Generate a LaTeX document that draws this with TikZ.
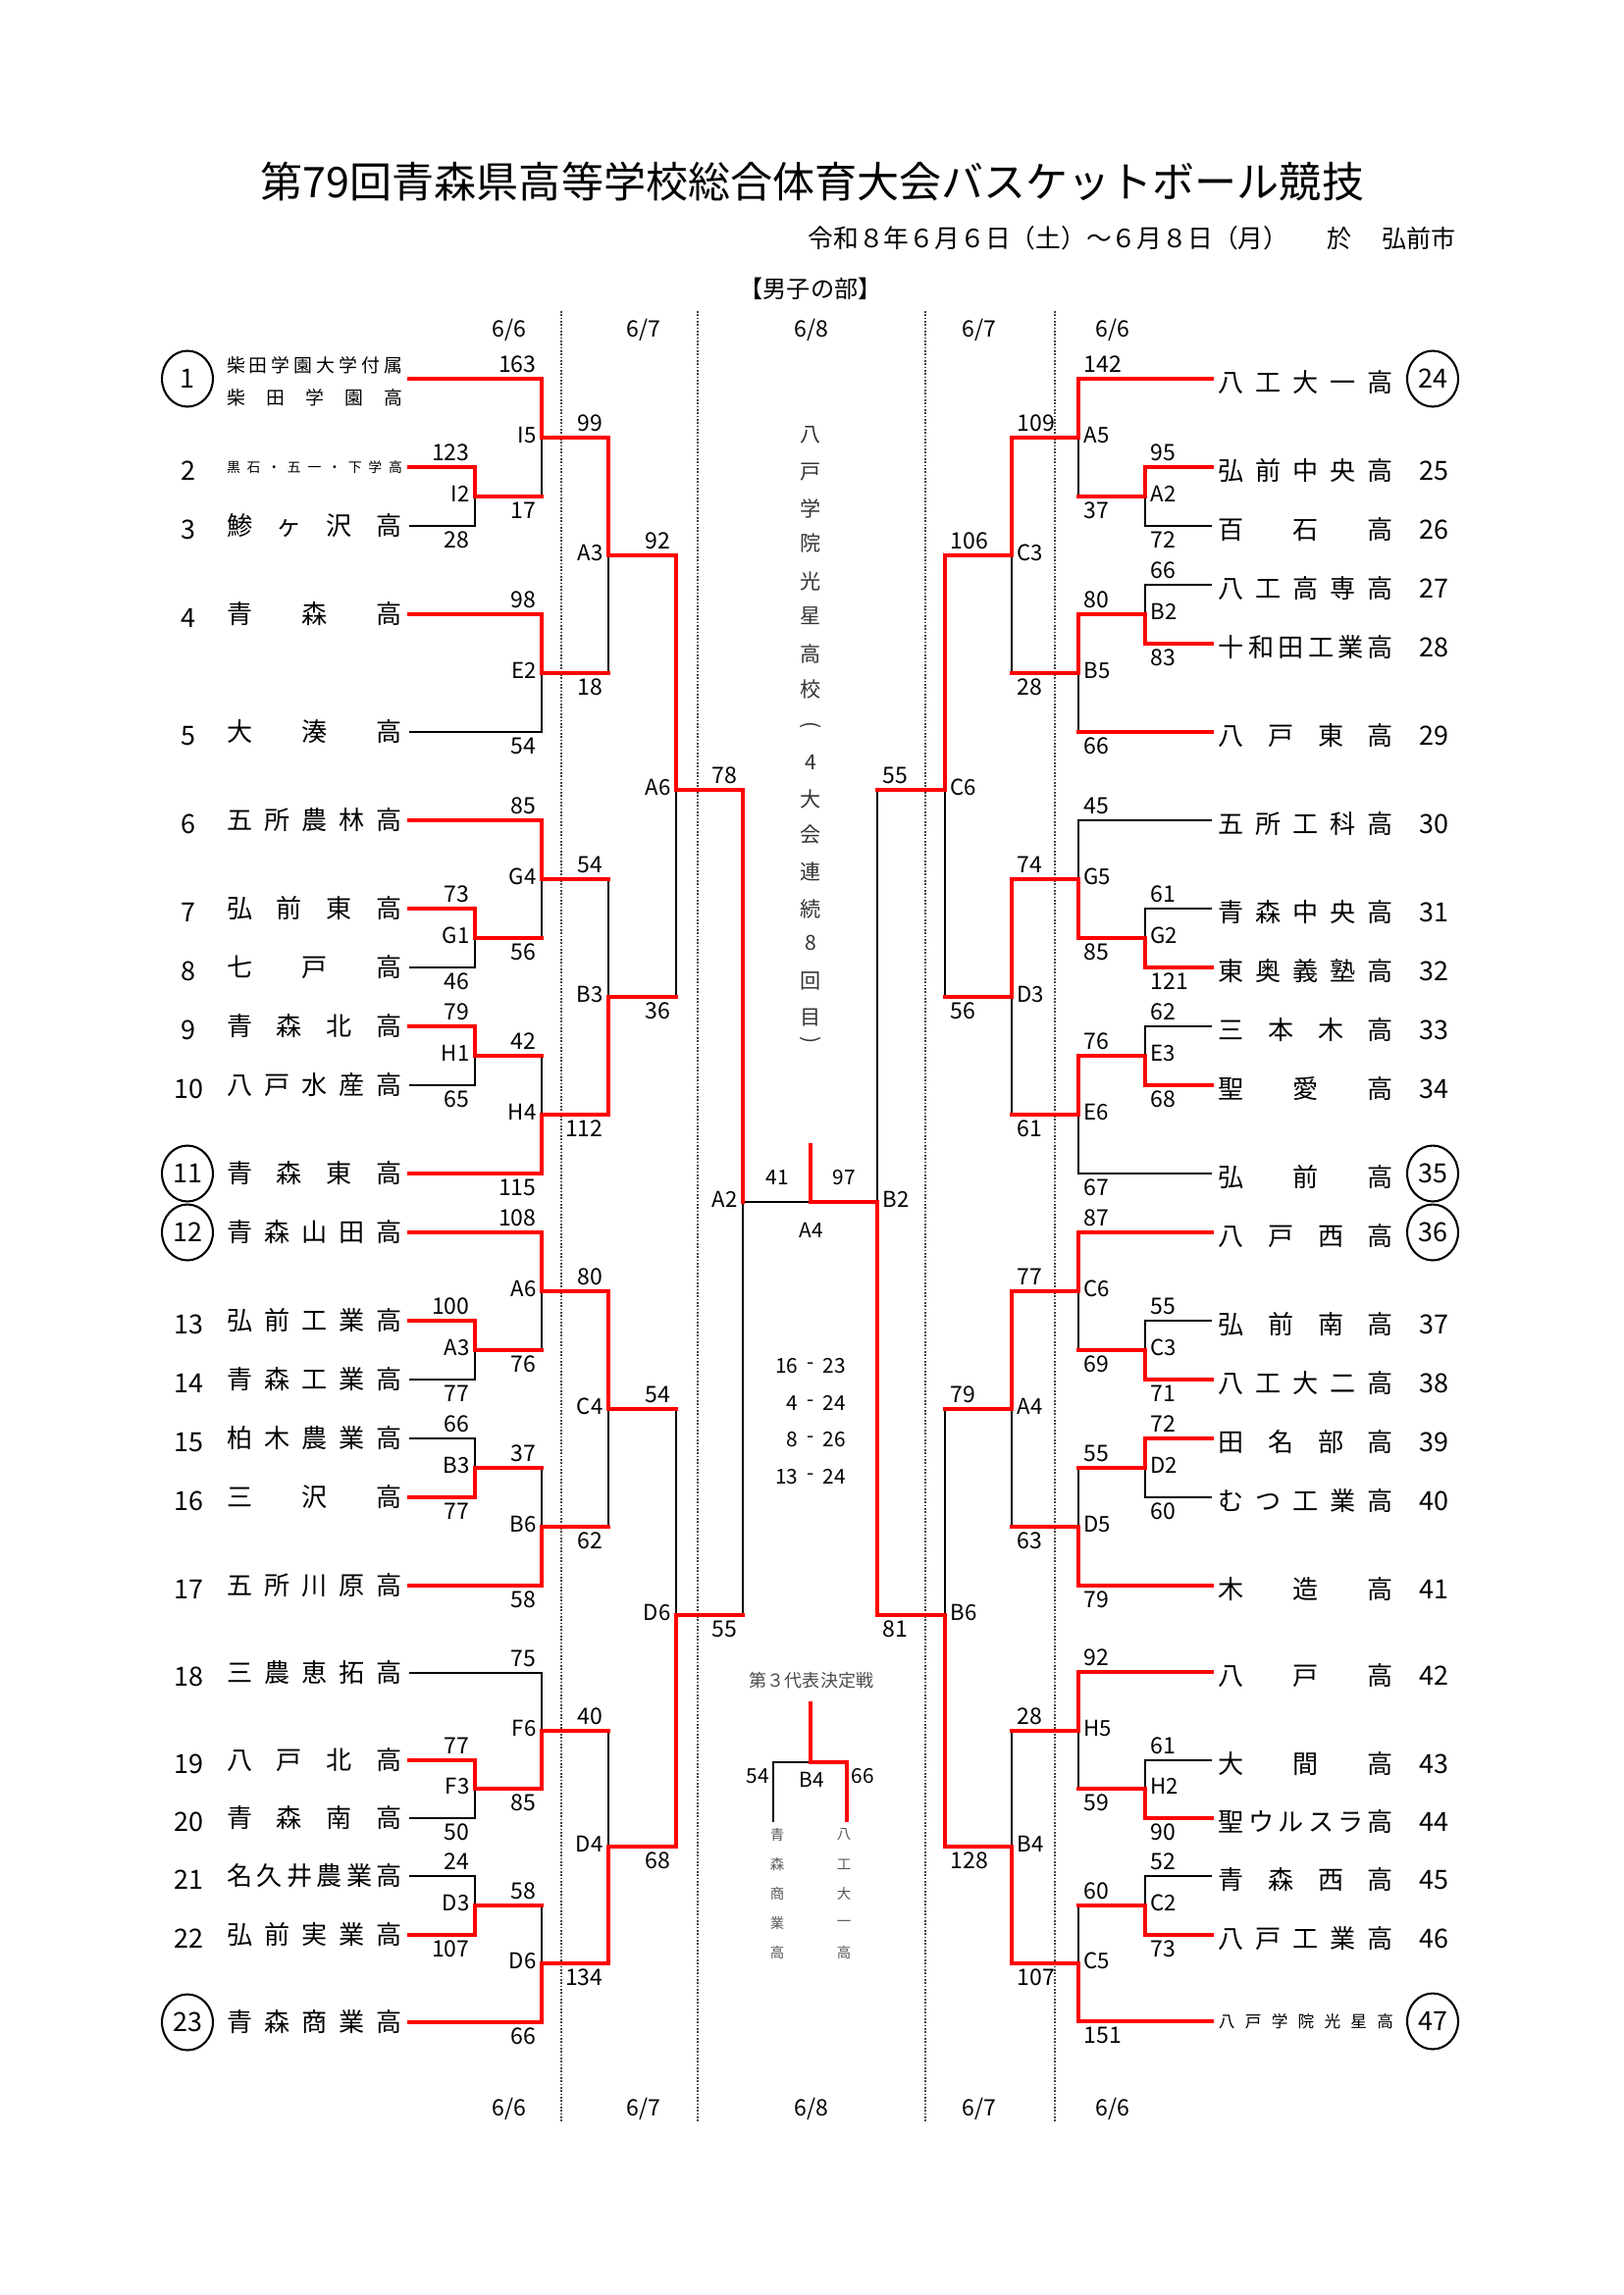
\documentclass[tikz,border=0pt]{standalone}
\usepackage{fontspec}
\setmainfont{Noto Sans CJK JP}
\usetikzlibrary{calc,shapes.geometric}
\pgfdeclarelayer{fg}
\pgfsetlayers{main,fg}
\newcommand\fs[1]{\fontsize{#1}{#1}\selectfont}
\makeatletter
\newcommand\spr[2]{\edef\sprlist{#2}\makebox[#1][s]{\def\sprnext{\@tfor\sprx:=}\expandafter\sprnext\sprlist\do{\sprx\hfill}\unskip}}
\makeatother
\newcounter{nd}
\newcommand\WW[2]{\begin{pgfonlayer}{fg}\draw[win] (#1) -| (#2);\end{pgfonlayer}}
\newcommand\BB[2]{\draw[lose] (#1) -| (#2);}
\newcommand\RB[2]{\draw[lose] (#1 -| #2) -- (#2);\begin{pgfonlayer}{fg}\draw[win] (#1) -- (#1 -| #2);\end{pgfonlayer}}
\newcommand\sLu[3]{\stepcounter{nd}\node[scL] (s\arabic{nd}) at ($(#1 -| #2)+(-5,-15)$) {#3};}
\newcommand\sLd[3]{\stepcounter{nd}\node[scL] (s\arabic{nd}) at ($(#1 -| #2)+(-5,14)$) {#3};}
\newcommand\sRu[3]{\stepcounter{nd}\node[scR] (s\arabic{nd}) at ($(#1 -| #2)+(5,-15)$) {#3};}
\newcommand\sRd[3]{\stepcounter{nd}\node[scR] (s\arabic{nd}) at ($(#1 -| #2)+(5,14)$) {#3};}
\newcommand\lL[2]{\stepcounter{nd}\node[lbL] (s\arabic{nd}) at ($(#1)+(-5,-3)$) {#2};}
\newcommand\lR[2]{\stepcounter{nd}\node[lbR] (s\arabic{nd}) at ($(#1)+(5,-3)$) {#2};}
\tikzset{
 win/.style={draw=red, line width=1.6pt, line cap=rect},
 lose/.style={draw=black, line width=0.7pt},
 sc/.style={font=\fs{8.3}, inner sep=0pt},
 scL/.style={sc, anchor=east},
 scR/.style={sc, anchor=west},
 lbL/.style={font=\fs{8}, inner sep=0pt, anchor=east},
 lbR/.style={font=\fs{8}, inner sep=0pt, anchor=west},
 tname/.style={font=\fs{9.4}, inner sep=0pt},
 tnum/.style={font=\fs{9.7}, inner sep=0pt},
 seed/.style={ellipse, draw, line width=0.75pt, minimum width=18.7pt, minimum height=20.5pt, inner sep=0pt, font=\fs{9.7}},
 datelbl/.style={font=\fs{8.3}, inner sep=0pt},
 dots/.style={line width=0.4pt, black!75, dash pattern=on 0.6pt off 0.6pt},
 ctext/.style={font=\fs{7.5}, inner sep=0pt},
 vtext/.style={font=\fs{7.6}, inner sep=0pt, text=black!80},
 smallv/.style={font=\fs{5.2}, inner sep=0pt, text=black!65},
}
\begin{document}
\begin{tikzpicture}[x=0.36pt, y=-0.36pt]
\useasboundingbox (0,0) rectangle (1654,2339);
% titles
\node[inner sep=0pt, font=\fs{15.5}] (title) at (828,185) {第79回青森県高等学校総合体育大会バスケットボール競技};
\node[inner sep=0pt, font=\fs{9.28}, anchor=west] (sub1) at (823,243) {令和８年６月６日（土）～６月８日（月）};
\node[inner sep=0pt, font=\fs{9}] (sub2) at (1365,243) {於};
\node[inner sep=0pt, font=\fs{9}] (sub3) at (1446,243) {弘前市};
\node[inner sep=0pt, font=\fs{8.7}] (div) at (826,294) {【男子の部】};
% dotted round separators
\foreach \x/\nm in {572/da,711/db,943/dc,1075/dd} {
  \coordinate (\nm t) at (\x,317); \coordinate (\nm b) at (\x,2162);
  \draw[dots] (\nm t) -- (\nm b);
}
% dates
\foreach \x/\d [count=\i] in {519/6\slash 6,656/6\slash 7,827/6\slash 8,998/6\slash 7,1134/6\slash 6} {
  \node[datelbl] (dt\i) at (\x,336) {\d};
  \node[datelbl] (db\i) at (\x,2149) {\d};
}
% team line coordinates
\foreach \n/\y in {1/386,2/476,3/536,4/626,5/746,6/836,7/926,8/986,9/1046,10/1106,11/1196,12/1256,13/1346,14/1406,15/1466,16/1526,17/1616,18/1705,19/1794,20/1853,21/1912,22/1972,23/2061}
  \coordinate (L\n) at (417,\y);
\foreach \n/\y in {24/386,25/476,26/536,27/596,28/656,29/746,30/836,31/926,32/986,33/1046,34/1106,35/1196,36/1256,37/1346,38/1406,39/1466,40/1526,41/1616,42/1704,43/1794,44/1853,45/1912,46/1972,47/2060}
  \coordinate (R\n) at (1235,\y);
% junctions left
\coordinate (lp1) at (484,506); \coordinate (lp2) at (484,956); \coordinate (lp3) at (484,1076);
\coordinate (lp4) at (484,1376); \coordinate (lp5) at (484,1496); \coordinate (lp6) at (484,1823);
\coordinate (lp7) at (484,1942);
\coordinate (l1a) at (552,446); \coordinate (l1b) at (552,686); \coordinate (l1c) at (552,896);
\coordinate (l1d) at (552,1136); \coordinate (l1e) at (552,1316); \coordinate (l1f) at (552,1556);
\coordinate (l1g) at (552,1764); \coordinate (l1h) at (552,2001);
\coordinate (l2a) at (620,566); \coordinate (l2b) at (620,1016); \coordinate (l2c) at (620,1436); \coordinate (l2d) at (620,1882);
\coordinate (l3a) at (689,805); \coordinate (l3b) at (689,1646);
\coordinate (ls) at (757,1225);
\coordinate (fin) at (826,1225); \coordinate (fintop) at (826,1167);
\coordinate (rs) at (894,1225);
\coordinate (r3a) at (963,805); \coordinate (r3b) at (963,1646);
\coordinate (r2a) at (1031,566); \coordinate (r2b) at (1031,1016); \coordinate (r2c) at (1031,1436); \coordinate (r2d) at (1031,1882);
\coordinate (r1a) at (1099,446); \coordinate (r1b) at (1099,686); \coordinate (r1c) at (1099,896);
\coordinate (r1d) at (1099,1136); \coordinate (r1e) at (1099,1316); \coordinate (r1f) at (1099,1556);
\coordinate (r1g) at (1099,1764); \coordinate (r1h) at (1099,2001);
\coordinate (rp1) at (1167,506); \coordinate (rp2) at (1167,626); \coordinate (rp3) at (1167,956);
\coordinate (rp4) at (1167,1076); \coordinate (rp5) at (1167,1376); \coordinate (rp6) at (1167,1496);
\coordinate (rp7) at (1167,1823); \coordinate (rp8) at (1167,1942);
% left bracket
\WW{L2}{lp1} \BB{L3}{lp1}
\WW{L1}{l1a} \RB{lp1}{l1a}
\WW{L4}{l1b} \BB{L5}{l1b}
\WW{L7}{lp2} \BB{L8}{lp2}
\WW{L6}{l1c} \RB{lp2}{l1c}
\WW{L9}{lp3} \BB{L10}{lp3}
\RB{lp3}{l1d} \WW{L11}{l1d}
\WW{L13}{lp4} \BB{L14}{lp4}
\WW{L12}{l1e} \RB{lp4}{l1e}
\BB{L15}{lp5} \WW{L16}{lp5}
\RB{lp5}{l1f} \WW{L17}{l1f}
\WW{L19}{lp6} \BB{L20}{lp6}
\BB{L18}{l1g} \WW{lp6}{l1g}
\BB{L21}{lp7} \WW{L22}{lp7}
\RB{lp7}{l1h} \WW{L23}{l1h}
\WW{l1a}{l2a} \RB{l1b}{l2a}
\RB{l1c}{l2b} \WW{l1d}{l2b}
\WW{l1e}{l2c} \RB{l1f}{l2c}
\RB{l1g}{l2d} \WW{l1h}{l2d}
\WW{l2a}{l3a} \RB{l2b}{l3a}
\RB{l2c}{l3b} \WW{l2d}{l3b}
\WW{l3a}{ls} \RB{l3b}{ls}
% final
\draw[lose] (ls) -- (fin);
\begin{pgfonlayer}{fg}\draw[win] (rs) -- (fin) -- (fintop);\end{pgfonlayer}
% right bracket
\WW{R25}{rp1} \BB{R26}{rp1}
\WW{R24}{r1a} \RB{rp1}{r1a}
\BB{R27}{rp2} \WW{R28}{rp2}
\WW{rp2}{r1b} \RB{R29}{r1b}
\BB{R31}{rp3} \WW{R32}{rp3}
\BB{R30}{r1c} \WW{rp3}{r1c}
\BB{R33}{rp4} \WW{R34}{rp4}
\WW{rp4}{r1d} \BB{R35}{r1d}
\BB{R37}{rp5} \WW{R38}{rp5}
\WW{R36}{r1e} \RB{rp5}{r1e}
\WW{R39}{rp6} \BB{R40}{rp6}
\RB{rp6}{r1f} \WW{R41}{r1f}
\BB{R43}{rp7} \WW{R44}{rp7}
\WW{R42}{r1g} \RB{rp7}{r1g}
\BB{R45}{rp8} \WW{R46}{rp8}
\RB{rp8}{r1h} \WW{R47}{r1h}
\WW{r1a}{r2a} \RB{r1b}{r2a}
\WW{r1c}{r2b} \RB{r1d}{r2b}
\WW{r1e}{r2c} \RB{r1f}{r2c}
\RB{r1g}{r2d} \WW{r1h}{r2d}
\WW{r2a}{r3a} \RB{r2b}{r3a}
\RB{r2c}{r3b} \WW{r2d}{r3b}
\RB{r3a}{rs} \WW{r3b}{rs}
% left scores and labels
\sLu{L2}{lp1}{123} \sLd{L3}{lp1}{28} \lL{lp1}{I2}
\sLu{L1}{l1a}{163} \sLd{lp1}{l1a}{17} \lL{l1a}{I5}
\sLu{L4}{l1b}{98} \sLd{L5}{l1b}{54} \lL{l1b}{E2}
\sLu{L7}{lp2}{73} \sLd{L8}{lp2}{46} \lL{lp2}{G1}
\sLu{L6}{l1c}{85} \sLd{lp2}{l1c}{56} \lL{l1c}{G4}
\sLu{L9}{lp3}{79} \sLd{L10}{lp3}{65} \lL{lp3}{H1}
\sLu{lp3}{l1d}{42} \sLd{L11}{l1d}{115} \lL{l1d}{H4}
\sLu{L13}{lp4}{100} \sLd{L14}{lp4}{77} \lL{lp4}{A3}
\sLu{L12}{l1e}{108} \sLd{lp4}{l1e}{76} \lL{l1e}{A6}
\sLu{L15}{lp5}{66} \sLd{L16}{lp5}{77} \lL{lp5}{B3}
\sLu{lp5}{l1f}{37} \sLd{L17}{l1f}{58} \lL{l1f}{B6}
\sLu{L19}{lp6}{77} \sLd{L20}{lp6}{50} \lL{lp6}{F3}
\sLu{L18}{l1g}{75} \sLd{lp6}{l1g}{85} \lL{l1g}{F6}
\sLu{L21}{lp7}{24} \sLd{L22}{lp7}{107} \lL{lp7}{D3}
\sLu{lp7}{l1h}{58} \sLd{L23}{l1h}{66} \lL{l1h}{D6}
\sLu{l1a}{l2a}{99} \sLd{l1b}{l2a}{18} \lL{l2a}{A3}
\sLu{l1c}{l2b}{54} \sLd{l1d}{l2b}{112} \lL{l2b}{B3}
\sLu{l1e}{l2c}{80} \sLd{l1f}{l2c}{62} \lL{l2c}{C4}
\sLu{l1g}{l2d}{40} \sLd{l1h}{l2d}{134} \lL{l2d}{D4}
\sLu{l2a}{l3a}{92} \sLd{l2b}{l3a}{36} \lL{l3a}{A6}
\sLu{l2c}{l3b}{54} \sLd{l2d}{l3b}{68} \lL{l3b}{D6}
\sLu{l3a}{ls}{78} \sLd{l3b}{ls}{55} \lL{ls}{A2}
% right scores and labels
\sRu{R25}{rp1}{95} \sRd{R26}{rp1}{72} \lR{rp1}{A2}
\sRu{R24}{r1a}{142} \sRd{rp1}{r1a}{37} \lR{r1a}{A5}
\sRu{R27}{rp2}{66} \sRd{R28}{rp2}{83} \lR{rp2}{B2}
\sRu{rp2}{r1b}{80} \sRd{R29}{r1b}{66} \lR{r1b}{B5}
\sRu{R31}{rp3}{61} \sRd{R32}{rp3}{121} \lR{rp3}{G2}
\sRu{R30}{r1c}{45} \sRd{rp3}{r1c}{85} \lR{r1c}{G5}
\sRu{R33}{rp4}{62} \sRd{R34}{rp4}{68} \lR{rp4}{E3}
\sRu{rp4}{r1d}{76} \sRd{R35}{r1d}{67} \lR{r1d}{E6}
\sRu{R37}{rp5}{55} \sRd{R38}{rp5}{71} \lR{rp5}{C3}
\sRu{R36}{r1e}{87} \sRd{rp5}{r1e}{69} \lR{r1e}{C6}
\sRu{R39}{rp6}{72} \sRd{R40}{rp6}{60} \lR{rp6}{D2}
\sRu{rp6}{r1f}{55} \sRd{R41}{r1f}{79} \lR{r1f}{D5}
\sRu{R43}{rp7}{61} \sRd{R44}{rp7}{90} \lR{rp7}{H2}
\sRu{R42}{r1g}{92} \sRd{rp7}{r1g}{59} \lR{r1g}{H5}
\sRu{R45}{rp8}{52} \sRd{R46}{rp8}{73} \lR{rp8}{C2}
\sRu{rp8}{r1h}{60} \sRd{R47}{r1h}{151} \lR{r1h}{C5}
\sRu{r1a}{r2a}{109} \sRd{r1b}{r2a}{28} \lR{r2a}{C3}
\sRu{r1c}{r2b}{74} \sRd{r1d}{r2b}{61} \lR{r2b}{D3}
\sRu{r1e}{r2c}{77} \sRd{r1f}{r2c}{63} \lR{r2c}{A4}
\sRu{r1g}{r2d}{28} \sRd{r1h}{r2d}{107} \lR{r2d}{B4}
\sRu{r2a}{r3a}{106} \sRd{r2b}{r3a}{56} \lR{r3a}{C6}
\sRu{r2c}{r3b}{79} \sRd{r2d}{r3b}{128} \lR{r3b}{B6}
\sRu{r3a}{rs}{55} \sRd{r3b}{rs}{81} \lR{rs}{B2}
% final texts
\node[ctext] (f41) at (792,1200) {41};
\node[ctext] (f97) at (860,1200) {97};
\node[ctext] (fA4) at (827,1254) {A4};
\foreach \a/\b/\y [count=\i] in {16/23/1392,4/24/1430,8/26/1467,13/24/1505} {
  \node[ctext, anchor=east] (pa\i) at (814,\y) {\a};
  \node[ctext] (pd\i) at (826,\y) {-};
  \node[ctext, anchor=west] (pb\i) at (838,\y) {\b};
}
% champion vertical text
\foreach \c/\y in {八/443,戸/481,学/518,院/554,光/592,星/628,高/666,校/702,4/777,大/814,会/851,連/888,続/926,8/961,回/1000,目/1037}
  \node[vtext] (vt\y) at (826,\y) {\c};
\node[vtext, rotate=-90] (vtpl) at (826,739) {(};
\node[vtext, rotate=-90] (vtpr) at (826,1060) {)};
% third place
\node[ctext, font=\fs{6.5}, text=black!70] (third) at (827,1713) {第３代表決定戦};
\coordinate (b4top) at (826,1736); \coordinate (b4) at (826,1796);
\coordinate (b4l) at (788,1796); \coordinate (b4lb) at (788,1857);
\coordinate (b4r) at (863,1796); \coordinate (b4rb) at (863,1855);
\draw[lose] (b4) -- (b4l) -- (b4lb);
\begin{pgfonlayer}{fg}\draw[win] (b4top) -- (b4) -- (b4r) -- (b4rb);\end{pgfonlayer}
\node[ctext] (b4a) at (772,1810) {54};
\node[ctext] (b4b) at (879,1810) {66};
\node[ctext] (b4c) at (827,1814) {B4};
\foreach \c/\d/\y in {青/八/1870,森/工/1900,商/大/1930,業/一/1960,高/高/1990} {
  \node[smallv] (tl\y) at (792,\y) {\c};
  \node[smallv] (tr\y) at (860,\y) {\d};
}
% left team names
\node[tname, font=\fs{6.8}] (ln1a) at (320.5,372) {\spr{64.4pt}{柴田学園大学付属}};
\node[tname, font=\fs{6.8}] (ln1b) at (320.5,405) {\spr{64.4pt}{柴田学園高}};
\node[tname, font=\fs{5}] (ln2) at (320.5,476) {\spr{64.4pt}{黒石・五一・下学高}};
\foreach \n/\y/\tx in {3/536/鯵ヶ沢高,4/626/青森高,5/746/大湊高,6/836/五所農林高,7/926/弘前東高,8/986/七戸高,9/1046/青森北高,10/1106/八戸水産高,11/1196/青森東高,12/1256/青森山田高,13/1346/弘前工業高,14/1406/青森工業高,15/1466/柏木農業高,16/1526/三沢高,17/1616/五所川原高,18/1705/三農恵拓高,19/1794/八戸北高,20/1853/青森南高,21/1912/名久井農業高,22/1972/弘前実業高,23/2061/青森商業高}
  \node[tname] (ln\n) at (320.5,\y) {\spr{64.4pt}{\tx}};
% right team names
\foreach \n/\y/\tx in {24/386/八工大一高,25/476/弘前中央高,26/536/百石高,27/596/八工高専高,28/656/十和田工業高,29/746/八戸東高,30/836/五所工科高,31/926/青森中央高,32/986/東奥義塾高,33/1046/三本木高,34/1106/聖愛高,35/1196/弘前高,36/1256/八戸西高,37/1346/弘前南高,38/1406/八工大二高,39/1466/田名部高,40/1526/むつ工業高,41/1616/木造高,42/1704/八戸高,43/1794/大間高,44/1853/聖ウルスラ高,45/1912/青森西高,46/1972/八戸工業高}
  \node[tname] (rn\n) at (1331,\y+4) {\spr{64.1pt}{\tx}};
\node[tname, font=\fs{6}] (rn47) at (1331,2060) {\spr{64.1pt}{八戸学院光星高}};
% numbers
\foreach \n/\y in {2/476,3/536,4/626,5/746,6/836,7/926,8/986,9/1046,10/1106,13/1346,14/1406,15/1466,16/1526,17/1616,18/1705,19/1794,20/1853,21/1912,22/1972}
  \node[tnum] (nl\n) at (192,\y+4) {\n};
\foreach \n/\y in {1/386,11/1196,12/1256,23/2061}
  \node[seed] (nl\n) at (191,\y) {\n};
\foreach \n/\y in {25/476,26/536,27/596,28/656,29/746,30/836,31/926,32/986,33/1046,34/1106,37/1346,38/1406,39/1466,40/1526,41/1616,42/1704,43/1794,44/1853,45/1912,46/1972}
  \node[tnum] (nr\n) at (1461,\y+4) {\n};
\foreach \n/\y in {24/386,35/1196,36/1256,47/2060}
  \node[seed] (nr\n) at (1460,\y) {\n};
\end{tikzpicture}
\end{document}
